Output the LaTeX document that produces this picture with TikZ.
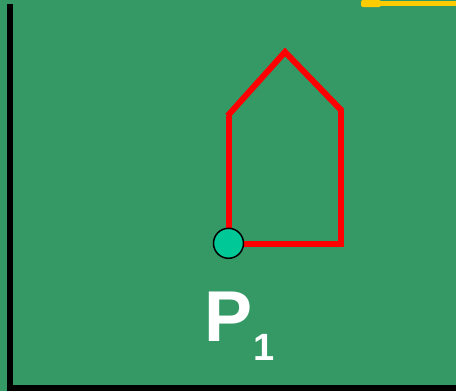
\documentclass[tikz,border=0pt]{standalone}
\usepackage{fontspec}
\setmainfont{Liberation Sans}
\definecolor{bggreen}{RGB}{53,153,102}
\definecolor{dotfill}{RGB}{0,200,150}
\definecolor{ylw}{RGB}{255,204,0}
\begin{document}
\begin{tikzpicture}[x=1pt,y=-1pt,
  redline/.style={draw=red,line width=6pt,line cap=butt},
  axisline/.style={draw=black,line width=6pt},
  dot/.style={circle,draw=black,line width=1.5pt,fill=dotfill,minimum size=30pt,inner sep=0pt},
  lbl/.style={text=white,font=\bfseries,inner sep=0pt}]
\fill[bggreen] (0,0) rectangle (456,391);
\useasboundingbox (0,0) rectangle (456,391);
% axes
\draw[axisline] (10,4) -- (10,388);
\draw[axisline] (7,388) -- (456,388);
% yellow line
\draw[ylw,line width=5pt] (362,3.5) -- (456,3.5);
\fill[ylw,rounded corners=2pt] (361,0) rectangle (381,7);
% house
\draw[redline] (228.5,243) -- (228.5,116);
\draw[redline,line join=miter] (227.5,116) -- (285,52) -- (342,111);
\draw[redline] (340.7,110) -- (340.7,247);
\draw[redline] (231,244) -- (341,244);
% point
\node[dot] (p) at (228.5,243.3) {};
\node[lbl,font=\bfseries\fontsize{72}{72}\selectfont,anchor=base west] (P) at (204,341.5) {P};
\node[lbl,font=\bfseries\fontsize{38}{38}\selectfont,anchor=base west] (one) at (253,360) {1};
\end{tikzpicture}
\end{document}
